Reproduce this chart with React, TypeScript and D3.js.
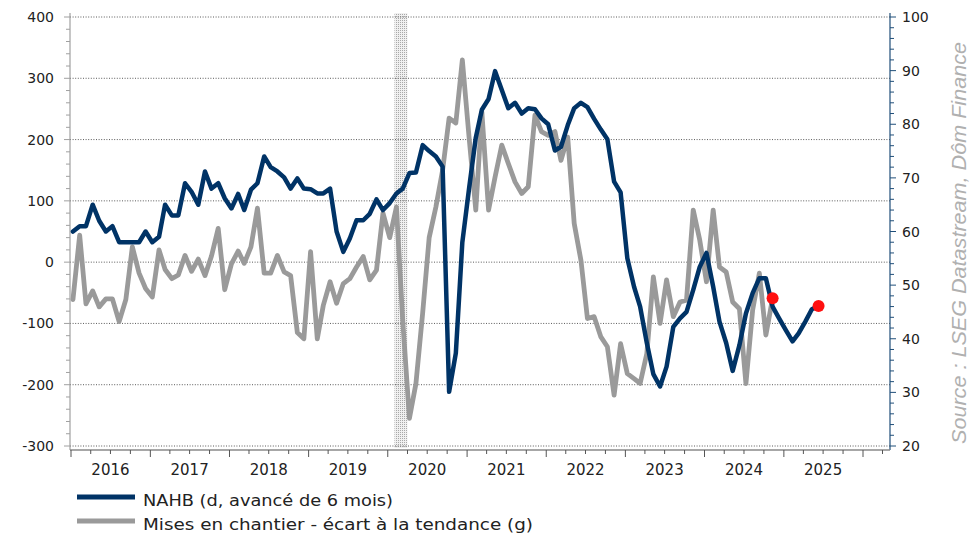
import React from "react";
import * as d3 from "d3";

const width = 970;
const height = 535;
const plot = { left: 70, right: 890, top: 17, bottom: 446 };

// Mises en chantier - écart à la tendance (axe gauche), mensuel depuis janv. 2016
const starts = [
  -61, 44, -68, -47, -73, -60, -60, -97, -61, 25, -18, -43,
  -57, 20, -12, -27, -21, 11, -15, 5, -22, 10, 55, -45,
  -3, 18, -2, 25, 88, -18, -18, 11, -16, -22, -115, -125,
  17, -125, -70, -32, -67, -35, -27, -8, 9, -29, -13, 80,
  40, 90, -95, -255, -198, -83, 40, 90, 150, 235, 227, 330,
  204, 85, 245, 85, 139, 191, 161, 131, 112, 123, 240, 213,
  207, 213, 166, 204, 63, 3, -92, -89, -122, -138, -217, -133,
  -182, -190, -198, -149, -24, -100, -29, -89, -65, -62, 85, 36,
  -32, 85, -8, -16, -65, -76, -198, -78, -18, -119, -59,
];

// NAHB avancé de 6 mois (axe droit), mensuel depuis janv. 2016
const nahb = [
  60, 61, 61, 65, 62, 60, 61, 58, 58, 58, 58, 60,
  58, 59, 65, 63, 63, 69, 67.4, 65, 71.2, 68, 69, 66.2,
  64.3, 67, 64, 67.8, 69, 74, 72, 71.2, 70.1, 68, 69.9, 68,
  67.9, 67.1, 67.1, 68, 60, 56.2, 58.7, 62.1, 62.1, 63.3, 66, 64,
  65.3, 67.1, 68, 70.9, 71, 76.1, 75, 74, 72.1, 30.1, 37.3, 58,
  68, 77.5, 82.7, 84.7, 89.9, 86.4, 83, 84, 82, 83, 82.8, 81.1,
  80, 75.1, 75.8, 79.8, 83, 84, 83.2, 81, 79, 77.2, 69.3, 67.3,
  55, 49.7, 46, 39.2, 33.4, 31.1, 34.8, 42.2, 43.8, 45, 49.1, 53.4,
  56, 49.7, 43.2, 39.2, 34, 38.8, 44.7, 48.5, 51.3, 51.3, 46, 43.8,
  41.6, 39.5, 41, 43.2, 45.5, 46.1,
];

const years = [2016, 2017, 2018, 2019, 2020, 2021, 2022, 2023, 2024, 2025];
const leftTicks = [400, 300, 200, 100, 0, -100, -200, -300];
const rightTicks = [100, 90, 80, 70, 60, 50, 40, 30, 20];
const recession = [new Date(2020, 1, 1), new Date(2020, 3, 1)];
const legendLabels = ["NAHB (d, avancé de 6 mois)", "Mises en chantier - écart à la tendance (g)"];

const blue = "#003366";
const gray = "#9a9a9a";

const x = d3.scaleTime()
  .domain([new Date(2016, 0, 1), new Date(2026, 0, 1)])
  .range([71, 863]);
const yL = d3.scaleLinear().domain([-300, 400]).range([plot.bottom, plot.top]);
const yR = d3.scaleLinear().domain([20, 100]).range([plot.bottom, plot.top]);

const monthDate = (m: number) => new Date(2016, m, 10);

const lineL = d3.line<number>().x((_, i) => x(monthDate(i))).y(d => yL(d));
const lineR = d3.line<number>().x((_, i) => x(monthDate(i))).y(d => yR(d));

export default function App() {
  const axisY = 450;
  const font = "'DejaVu Sans', Verdana, sans-serif";
  const quarters = d3.timeMonth.every(3)!.range(new Date(2016, 0, 1), new Date(2026, 4, 1));
  const leftMinor = d3.range(-300, 401, 20).filter(v => v % 100 !== 0);
  const rightMinor = d3.range(20, 101, 2).filter(v => v % 10 !== 0);
  const lastG = starts.length - 1;
  const lastB = nahb.length - 1;

  return (
    <svg width={width} height={height} style={{ position: "absolute", left: 0, top: 0, background: "#fff" }}>
      <defs>
        <pattern id="dots" width="2" height="2" patternUnits="userSpaceOnUse">
          <rect width="2" height="2" fill="#f0f0f0" />
          <rect width="1" height="1" fill="#a8a8a8" />
        </pattern>
      </defs>

      <rect
        x={x(recession[0])}
        y={13}
        width={x(recession[1]) - x(recession[0])}
        height={448 - 13}
        fill="url(#dots)"
      />

      {leftTicks.map(v => (
        <line key={v} x1={plot.left} x2={plot.right} y1={yL(v)} y2={yL(v)}
          stroke="#5a5a5a" strokeWidth={1} strokeDasharray="1,1.6" />
      ))}

      {/* left axis */}
      <line x1={plot.left} x2={plot.left} y1={13} y2={axisY} stroke="#a0a0a0" strokeWidth={1.2} />
      {leftTicks.map(v => (
        <g key={v}>
          <line x1={plot.left - 6} x2={plot.left} y1={yL(v)} y2={yL(v)} stroke="#a0a0a0" />
          <text x={54} y={yL(v) + 5} textAnchor="end" fontFamily={font} fontSize={14} fill="#222">{v}</text>
        </g>
      ))}
      {leftMinor.map(v => (
        <line key={v} x1={plot.left - 4} x2={plot.left} y1={yL(v)} y2={yL(v)} stroke="#a0a0a0" />
      ))}

      {/* right axis */}
      <line x1={plot.right} x2={plot.right} y1={13} y2={axisY} stroke="#1f4e79" strokeWidth={1.2} />
      {rightTicks.map(v => (
        <g key={v}>
          <line x1={plot.right} x2={plot.right + 6} y1={yR(v)} y2={yR(v)} stroke="#1f4e79" />
          <text x={902} y={yR(v) + 5} fontFamily={font} fontSize={14} fill="#222">{v}</text>
        </g>
      ))}
      {rightMinor.map(v => (
        <line key={v} x1={plot.right} x2={plot.right + 4} y1={yR(v)} y2={yR(v)} stroke="#1f4e79" />
      ))}

      {/* bottom axis */}
      <line x1={plot.left} x2={plot.right} y1={axisY} y2={axisY} stroke="#8a8a8a" strokeWidth={1.5} />
      {quarters.map(d => {
        const major = d.getMonth() === 0;
        return (
          <line key={d.getTime()} x1={x(d)} x2={x(d)} y1={axisY} y2={axisY + (major ? 7 : 4)}
            stroke="#555" strokeWidth={1} />
        );
      })}
      {years.map(yr => (
        <text key={yr} x={x(new Date(yr, 6, 1))} y={475} textAnchor="middle"
          fontFamily={font} fontSize={15} fill="#222">{yr}</text>
      ))}

      {/* series */}
      <path d={lineL(starts) || ""} fill="none" stroke={gray} strokeWidth={4.8}
        strokeLinejoin="round" strokeLinecap="round" />
      <path d={lineR(nahb) || ""} fill="none" stroke={blue} strokeWidth={4.5}
        strokeLinejoin="round" strokeLinecap="round" />
      <circle cx={x(monthDate(lastG))} cy={yL(starts[lastG])} r={6} fill="#ff1010" />
      <circle cx={x(monthDate(lastB))} cy={yR(nahb[lastB])} r={6} fill="#ff1010" />

      {/* legend */}
      <line x1={77} x2={135} y1={497} y2={497} stroke={blue} strokeWidth={5} />
      <text x={143} y={506} fontFamily={font} fontSize={16} fill="#222"
        textLength={250} lengthAdjust="spacingAndGlyphs">{legendLabels[0]}</text>
      <line x1={77} x2={135} y1={521} y2={521} stroke={gray} strokeWidth={5} />
      <text x={143} y={530} fontFamily={font} fontSize={16} fill="#222"
        textLength={390} lengthAdjust="spacingAndGlyphs">{legendLabels[1]}</text>

      {/* source */}
      <text transform="translate(966,243) rotate(-90)" textAnchor="middle"
        fontFamily="'Liberation Sans', Arial, sans-serif" fontStyle="italic" fontSize={20}
        fill="#b0b0b0" textLength={402} lengthAdjust="spacingAndGlyphs">
        Source : LSEG Datastream, Dôm Finance
      </text>
    </svg>
  );
}
